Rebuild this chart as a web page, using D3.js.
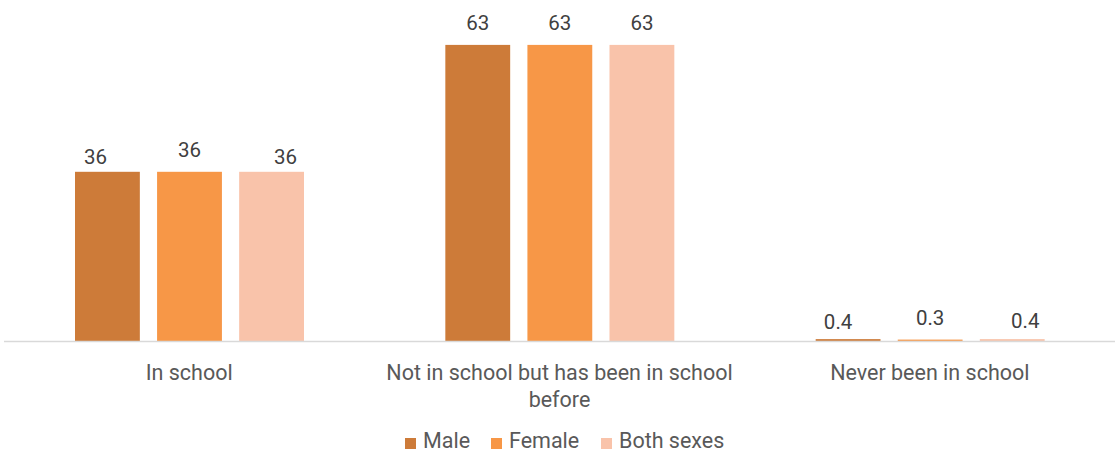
<!DOCTYPE html>
<html><head><meta charset="utf-8">
<script src="https://cdn.jsdelivr.net/npm/d3@7/dist/d3.min.js"></script>
<style>
html,body{margin:0;padding:0;background:#fff;}
text{font-family:Roboto, "Open Sans", sans-serif;}
</style></head>
<body><svg id="chart" width="1115" height="451"></svg>
<script>
const categories = ["In school", "Not in school but has been in school before", "Never been in school"];
const categoryLines = [["In school"], ["Not in school but has been in school", "before"], ["Never been in school"]];
const series = ["Male", "Female", "Both sexes"];
const male = [36, 63, 0.4];
const female = [36, 63, 0.3];
const bothSexes = [36, 63, 0.4];
const valueLabels = [["36","63","0.4"],["36","63","0.3"],["36","63","0.4"]];
const colors = ["#cd7b39", "#f79747", "#f9c3aa"];

const values = [male, female, bothSexes];
// manual label nudges (as in the reference), [series][category] -> [dx, dy]
const nudges = [
  [[-12, 7], [0, 0], [-10, 5]],
  [[0, 0], [0, 0], [0, 0]],
  [[14, 7], [0, 0], [13, 4]]
];

const svg = d3.select("#chart");
const baseY = 341;
const y = d3.scaleLinear().domain([0, 70]).range([baseY, 12]);
const x0 = d3.scaleBand().domain(categories).range([4, 1115]).padding(0);
const x1 = d3.scaleBand().domain(series).range([71, 300]).paddingInner(0.21).paddingOuter(0);

const g = svg.append("g");
categories.forEach((c, ci) => {
  series.forEach((s, si) => {
    const v = values[si][ci];
    const bx = x0(c) + x1(s);
    g.append("rect")
      .attr("x", bx).attr("y", y(v))
      .attr("width", x1.bandwidth()).attr("height", baseY - y(v))
      .attr("fill", colors[si]);
    const [dx, dy] = nudges[si][ci];
    g.append("text")
      .attr("x", bx + x1.bandwidth() / 2 + dx)
      .attr("y", y(v) - 15 + dy)
      .attr("text-anchor", "middle")
      .attr("font-size", 20.5)
      .attr("fill", "#404040")
      .text(valueLabels[si][ci]);
  });
});

// baseline
svg.append("line").attr("x1", 4).attr("x2", 1115).attr("y1", baseY + 0.5).attr("y2", baseY + 0.5)
  .attr("stroke", "#d9d9d9").attr("stroke-width", 1.5);

// category labels
categories.forEach((c, ci) => {
  const t = svg.append("text")
    .attr("x", x0(c) + x0.bandwidth() / 2)
    .attr("y", 380)
    .attr("text-anchor", "middle")
    .attr("font-size", 21.5)
    .attr("fill", "#595959");
  categoryLines[ci].forEach((ln, li) => {
    t.append("tspan").attr("x", x0(c) + x0.bandwidth() / 2).attr("dy", li === 0 ? 0 : 27).text(ln);
  });
});

// legend
const legendItems = [{x: 405}, {x: 491}, {x: 601}];
series.forEach((s, si) => {
  const lg = svg.append("g").attr("transform", `translate(${legendItems[si].x},438)`);
  lg.append("rect").attr("x", 0).attr("y", 0).attr("width", 11).attr("height", 11).attr("fill", colors[si]);
  lg.append("text").attr("x", 18).attr("y", 10).attr("font-size", 21.5).attr("fill", "#595959").text(s);
});
</script></body></html>
